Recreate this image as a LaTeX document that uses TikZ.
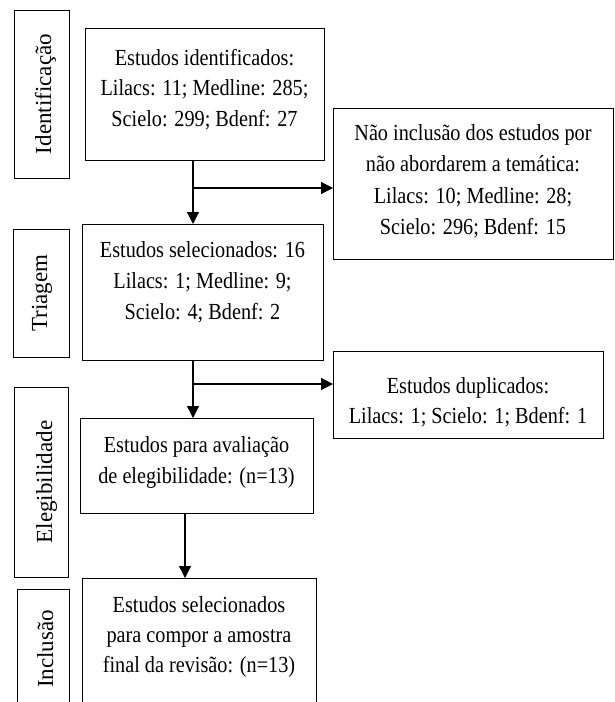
\documentclass[tikz,border=0pt]{standalone}
\usepackage{fontspec}
\setmainfont[FakeStretch=0.88]{Liberation Serif}
\newfontfamily\lblfont{Liberation Serif}
\usetikzlibrary{arrows.meta}
\tikzset{
  box/.style={draw=black, line width=1.2pt, fill=none, inner sep=0pt, anchor=north west},
  lblbox/.style={draw=black, line width=1.2pt, inner sep=0pt, anchor=north west},
  txt/.style={align=center, inner sep=0pt, anchor=north, font=\fontsize{23}{30.5}\selectfont},
  lbl/.style={rotate=90, inner sep=0pt, anchor=base, font=\lblfont\fontsize{23}{28}\selectfont},
  arr/.style={draw=black, line width=1.2pt, -{Triangle[length=12pt,width=12pt]}},
  ln/.style={draw=black, line width=1.2pt}
}
\newcommand{\fl}{\rule{0pt}{20pt}}
\begin{document}
\begin{tikzpicture}[x=1pt,y=-1pt]
\useasboundingbox (0,0) rectangle (614,702);
\clip (0,0) rectangle (614,702);
% stage labels
\node[lblbox, minimum width=55, minimum height=168] (s1) at (14,10) {};
\node[lbl] (l1) at (51,94) {Identificação};
\node[lblbox, minimum width=56, minimum height=128] (s2) at (13,229) {};
\node[lbl] (l2) at (47,293) {Triagem};
\node[lblbox, minimum width=54, minimum height=190] (s3) at (14,387) {};
\node[lbl] (l3) at (52,482) {Elegibilidade};
\node[lblbox, minimum width=52, minimum height=130] (s4) at (17,589) {};
\node[lbl] (l4) at (53,649) {Inclusão};
% main boxes
\node[box, minimum width=239, minimum height=132] (b1) at (85,28) {};
\node[txt] (t1) at (204.5,45) {\fl Estudos identificados:\\Lilacs: 11; Medline: 285;\\Scielo: 299; Bdenf: 27};
\node[box, minimum width=280, minimum height=151] (b3) at (333,108) {};
\node[txt, font=\fontsize{23}{31.5}\selectfont] (t3) at (473,120) {\fl Não inclusão dos estudos por\\não abordarem a temática:\\Lilacs: 10; Medline: 28;\\Scielo: 296; Bdenf: 15};
\node[box, minimum width=241, minimum height=136] (b2) at (82,224) {};
\node[txt, font=\fontsize{23}{31}\selectfont] (t2) at (202.5,237) {\fl Estudos selecionados: 16\\Lilacs: 1; Medline: 9;\\Scielo: 4; Bdenf: 2};
\node[box, minimum width=270, minimum height=87] (b4) at (333,351) {};
\node[txt] (t4) at (468,373) {\fl Estudos duplicados:\\Lilacs: 1; Scielo: 1; Bdenf: 1};
\node[box, minimum width=233, minimum height=95] (b5) at (80,418) {};
\node[txt, font=\fontsize{23}{31}\selectfont] (t5) at (196.5,432) {\fl Estudos para avaliação\\de elegibilidade: (n=13)};
\node[box, minimum width=234, minimum height=140] (b6) at (82,578) {};
\node[txt, font=\fontsize{23}{30}\selectfont] (t6) at (199,592) {\fl Estudos selecionados\\para compor a amostra\\final da revisão: (n=13)};
% connectors
\coordinate (j1) at (193,188);
\coordinate (j2) at (193,384);
\coordinate (j3) at (185,540);
\draw[arr] (b1.south -| j1) -- (b2.north -| j1);
\draw[arr] (j1) -- (j1 -| b3.west);
\draw[arr] (b2.south -| j2) -- (b5.north -| j2);
\draw[arr] (j2) -- (j2 -| b4.west);
\draw[arr] (b5.south -| j3) -- (b6.north -| j3);
\end{tikzpicture}
\end{document}
